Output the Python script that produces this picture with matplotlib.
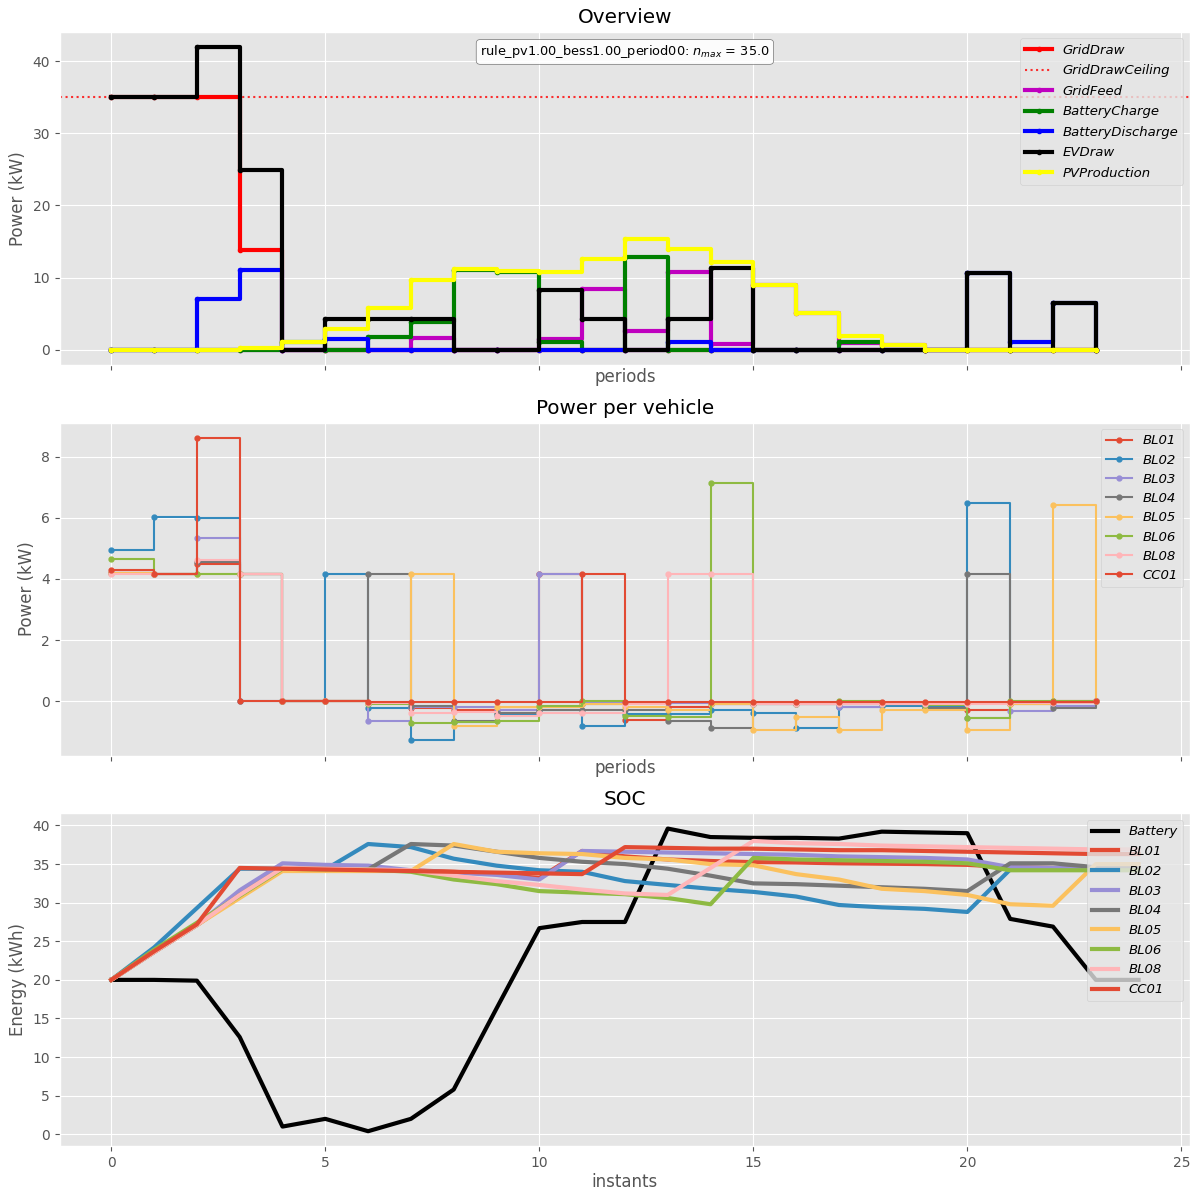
import matplotlib
matplotlib.use("Agg")
import matplotlib.pyplot as plt
import numpy as np

plt.style.use("ggplot")

# ---------------- data ----------------
periods = list(range(24))
instants = list(range(25))

grid_draw = [35.0, 35.0, 35.0, 13.8, 0, 0, 0, 0, 0, 0, 0, 0, 0, 0, 0, 0, 0, 0, 0, 0, 0, 0, 0, 0]
grid_draw_ceiling = 35.0
grid_feed = [0, 0, 0, 0, 0, 0, 0, 1.6, 0, 0, 1.5, 8.4, 2.6, 10.8, 0.8, 8.9, 5.1, 0.9, 0.6, 0, 0, 0, 0, 0]
battery_charge = [0, 0, 0, 0, 1.0, 0, 1.75, 3.8, 11.1, 10.8, 1.0, 0, 12.8, 0, 0, 0, 0, 1.0, 0, 0, 0, 0, 0, 0]
battery_discharge = [0, 0, 7.0, 11.1, 0, 1.5, 0, 0, 0, 0, 0, 0, 0, 1.0, 0, 0, 0, 0, 0, 0, 10.6, 1.0, 6.4, 0]
ev_draw = [35.0, 35.0, 42.0, 24.9, 0, 4.3, 4.3, 4.3, 0, 0, 8.2, 4.2, 0, 4.2, 11.3, 0, 0, 0, 0, 0, 10.6, 0, 6.4, 0]
pv_production = [0, 0, 0, 0.15, 1.0, 2.8, 5.8, 9.7, 11.2, 10.9, 10.7, 12.5, 15.3, 13.9, 12.1, 8.9, 5.1, 1.85, 0.6, 0, 0, 0, 0, 0]

vehicles = ["BL01", "BL02", "BL03", "BL04", "BL05", "BL06", "BL08", "CC01"]
power_BL01 = [4.2, 4.16, 4.5, 4.16, 0, 0, -0.05, -0.23, -0.27, -0.3, 4.16, -0.1, -0.61, -0.2, -0.1, -0.05, -0.05, -0.05, -0.05, -0.05, -0.3, -0.1, 0, 0]
power_BL02 = [4.94, 6.03, 5.99, 0, 0, 4.16, -0.22, -1.28, -0.67, -0.44, -0.30, -0.82, -0.41, -0.43, -0.28, -0.38, -0.88, -0.2, -0.16, -0.2, 6.5, -0.05, -0.05, 0]
power_BL03 = [4.2, 4.16, 5.34, 4.16, 0, 0, -0.65, -0.2, -0.2, -0.3, 4.16, -0.05, -0.05, -0.05, -0.1, -0.1, -0.1, -0.2, -0.1, -0.1, -0.55, -0.33, -0.15, 0]
power_BL04 = [4.2, 4.16, 4.56, 4.16, 0, 0, 4.16, -0.14, -0.65, -0.39, -0.3, -0.3, -0.3, -0.65, -0.87, -0.1, -0.1, -0.1, -0.1, -0.23, 4.16, -0.05, -0.22, 0]
power_BL05 = [4.2, 4.16, 4.16, 4.16, 0, 0, -0.05, 4.16, -0.82, -0.2, -0.2, -0.1, -0.2, -0.3, -0.1, -0.93, -0.5, -0.93, -0.3, -0.3, -0.93, -0.08, 6.42, 0]
power_BL06 = [4.64, 4.16, 4.16, 4.16, 0, 0, -0.1, -0.72, -0.69, -0.66, -0.17, 0, -0.47, -0.52, 7.13, -0.1, -0.1, 0, -0.1, -0.12, -0.55, 0, 0, 0]
power_BL08 = [4.16, 4.16, 4.63, 4.16, 0, 0, -0.05, -0.38, -0.36, -0.49, -0.38, -0.39, -0.1, 4.16, 4.16, -0.1, -0.1, -0.1, -0.1, -0.1, -0.1, -0.05, -0.05, 0]
power_CC01 = [4.30, 4.16, 8.62, 0, 0, 0, -0.03, -0.03, -0.03, -0.03, -0.03, 4.16, -0.03, -0.03, -0.03, -0.03, -0.03, -0.03, -0.03, -0.03, -0.03, -0.03, -0.03, 0]

soc_battery = [20.0, 20.0, 19.9, 12.6, 1.0, 2.0, 0.4, 2.0, 5.8, 16.3, 26.7, 27.5, 27.5, 39.6, 38.5, 38.4, 38.4, 38.3, 39.2, 39.1, 39.0, 27.9, 26.9, 20.0, 20.0]
soc_BL01 = [20.0, 23.6, 27.1, 30.9, 34.4, 34.4, 34.3, 34.2, 34.0, 33.7, 33.2, 36.7, 36.0, 35.6, 35.4, 35.25, 35.2, 35.1, 35.05, 35.0, 34.9, 34.6, 34.5, 34.5, 34.5]
soc_BL02 = [20.0, 24.2, 29.3, 34.4, 34.4, 34.3, 37.6, 37.2, 35.7, 34.8, 34.2, 34.0, 32.8, 32.3, 31.8, 31.4, 30.8, 29.7, 29.4, 29.2, 28.8, 34.3, 34.3, 34.3, 34.3]
soc_BL03 = [20.0, 23.6, 27.1, 31.6, 35.1, 34.9, 34.8, 34.2, 33.9, 33.6, 33.0, 36.7, 36.6, 36.5, 36.4, 36.3, 36.2, 36.0, 35.9, 35.8, 35.6, 34.6, 34.5, 34.4, 34.3]
soc_BL04 = [20.0, 23.6, 27.1, 31.0, 34.5, 34.4, 34.3, 37.6, 37.4, 36.6, 35.8, 35.3, 35.0, 34.4, 33.5, 32.5, 32.4, 32.2, 32.0, 31.8, 31.5, 35.1, 35.1, 34.6, 34.5]
soc_BL05 = [20.0, 23.6, 27.1, 30.6, 34.1, 34.1, 34.1, 34.1, 37.6, 36.6, 36.4, 36.3, 35.8, 35.6, 35.0, 34.85, 33.7, 33.0, 31.8, 31.5, 31.0, 29.8, 29.6, 35.0, 35.0]
soc_BL06 = [20.0, 23.9, 27.4, 30.9, 34.4, 34.3, 34.3, 34.0, 33.0, 32.4, 31.5, 31.3, 31.1, 30.6, 29.8, 35.8, 35.6, 35.5, 35.4, 35.3, 35.1, 34.2, 34.2, 34.2, 34.2]
soc_BL08 = [20.0, 23.6, 27.1, 31.0, 34.5, 34.4, 34.3, 34.2, 33.5, 32.8, 32.3, 31.7, 31.2, 31.0, 34.5, 38.0, 37.7, 37.6, 37.4, 37.3, 37.2, 37.1, 37.0, 36.9, 36.9]
soc_CC01 = [20.0, 23.7, 27.2, 34.5, 34.4, 34.3, 34.2, 34.1, 34.0, 33.9, 33.8, 33.7, 37.2, 37.1, 37.0, 37.0, 36.9, 36.8, 36.8, 36.7, 36.6, 36.5, 36.4, 36.3, 36.3]

vehicle_power = [power_BL01, power_BL02, power_BL03, power_BL04,
                 power_BL05, power_BL06, power_BL08, power_CC01]
vehicle_soc = [soc_BL01, soc_BL02, soc_BL03, soc_BL04,
               soc_BL05, soc_BL06, soc_BL08, soc_CC01]

run_name = "rule_pv1.00_bess1.00_period00"

# ---------------- figure ----------------
fig, axes = plt.subplots(3, 1, figsize=(11.98, 11.91), dpi=100, sharex=True)
fig.subplots_adjust(left=0.050, right=0.9933, top=0.9733, bottom=0.0375, hspace=0.174)

legend_font = {"style": "italic", "size": 9.5}

# Overview
ax = axes[0]
ax.step(periods, grid_draw, where="post", color="red", lw=3, marker=".", label="GridDraw")
ax.axhline(grid_draw_ceiling, color="red", ls=":", lw=1.5, alpha=0.8, label="GridDrawCeiling")
ax.step(periods, grid_feed, where="post", color="m", lw=3, marker=".", label="GridFeed")
ax.step(periods, battery_charge, where="post", color="g", lw=3, marker=".", label="BatteryCharge")
ax.step(periods, battery_discharge, where="post", color="b", lw=3, marker=".", label="BatteryDischarge")
ax.step(periods, ev_draw, where="post", color="k", lw=3, marker=".", label="EVDraw")
ax.step(periods, pv_production, where="post", color="yellow", lw=3, marker=".", label="PVProduction")
ax.set_title("Overview", color="black")
ax.set_ylabel("Power (kW)")
ax.set_xlabel("periods", labelpad=-1)
ax.legend(loc="upper right", prop=legend_font, labelspacing=0.57)
ax.text(0.5, 0.965, run_name + ": $n_{max}$ = %.1f" % grid_draw_ceiling,
        transform=ax.transAxes, ha="center", va="top", fontsize=9.3,
        bbox=dict(boxstyle="round", facecolor="white", edgecolor="0.4", alpha=0.9))

# Power per vehicle
ax = axes[1]
for name, p in zip(vehicles, vehicle_power):
    ax.step(periods, p, where="post", lw=1.5, marker=".", ms=7, label=name)
ax.set_title("Power per vehicle", color="black")
ax.set_ylabel("Power (kW)")
ax.set_xlabel("periods", labelpad=-1)
ax.legend(loc="upper right", prop=legend_font, labelspacing=0.47)

# SOC
ax = axes[2]
ax.plot(instants, soc_battery, color="k", lw=3, label="Battery")
for name, s in zip(vehicles, vehicle_soc):
    ax.plot(instants, s, lw=3, label=name)
ax.set_title("SOC", color="black")
ax.set_ylabel("Energy (kWh)")
ax.set_xlabel("instants", labelpad=2)
ax.legend(loc="upper right", prop=legend_font, labelspacing=0.51)

for a in axes:
    a.tick_params(labelbottom=False)
axes[2].tick_params(labelbottom=True)
axes[2].set_xticks([0, 5, 10, 15, 20, 25])

fig.savefig("out.png", dpi=100)
